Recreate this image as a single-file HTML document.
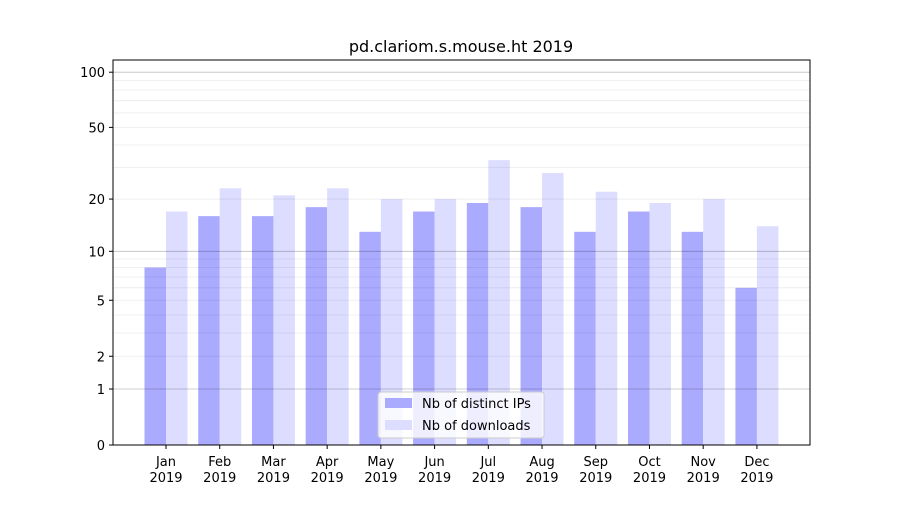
<!DOCTYPE html>
<html><head><meta charset="utf-8"><style>
html,body{margin:0;padding:0;background:#fff;}
svg text{font-family:"DejaVu Sans","Liberation Sans",sans-serif;fill:#000;}
</style></head><body>
<svg width="900" height="500" xmlns="http://www.w3.org/2000/svg">
<rect width="900" height="500" fill="#fff"/>
<g id="bars"></g>
<g id="grid"></g>
<rect x="113" y="60" width="697" height="385" fill="none" stroke="#000" stroke-width="1"/>
<g id="ticks" font-size="13"></g>
<text x="461" y="52" text-anchor="middle" font-size="16">pd.clariom.s.mouse.ht 2019</text>
<g>
<rect x="378" y="392" width="166" height="46" rx="3" fill="#fff" fill-opacity="0.8" stroke="#ccc"/>
<rect x="385" y="398" width="27" height="10" fill="#aaaaff"/>
<text x="422" y="408" font-size="13">Nb of distinct IPs</text>
<rect x="385" y="420" width="27" height="10" fill="#ddddff"/>
<text x="422" y="430" font-size="13">Nb of downloads</text>
</g>
</svg>
<script>
const ns="http://www.w3.org/2000/svg";
function Y(v){return 445-186*Math.log10(v+1);}
function el(p,t,a,txt){const e=document.createElementNS(ns,t);for(const k in a)e.setAttribute(k,a[k]);if(txt!==undefined)e.textContent=txt;document.querySelector(p).appendChild(e);return e;}
const minors=[2,3,4,5,6,7,8,9,20,30,40,50,60,70,80,90,200];
minors.forEach(v=>{const y=Y(v);if(y>60)el('#grid','line',{x1:113,x2:810,y1:y,y2:y,stroke:'rgba(0,0,0,0.08)','stroke-width':0.8});});
[1,10,100].forEach(v=>{const y=Y(v);el('#grid','line',{x1:113,x2:810,y1:y,y2:y,stroke:'rgba(0,0,0,0.25)','stroke-width':0.8});});
const ip=[8,16,16,18,13,17,19,18,13,17,13,6];
const dl=[17,23,21,23,20,20,33,28,22,19,20,14];
const m=['Jan','Feb','Mar','Apr','May','Jun','Jul','Aug','Sep','Oct','Nov','Dec'];
for(let i=0;i<12;i++){
 const c=166+i*53.72;
 el('#bars','rect',{x:c-21.5,y:Y(ip[i]),width:21.5,height:445-Y(ip[i]),fill:'#aaaaff'});
 el('#bars','rect',{x:c,y:Y(dl[i]),width:21.5,height:445-Y(dl[i]),fill:'#ddddff'});
 el('#ticks','line',{x1:c,x2:c,y1:445,y2:449,stroke:'#000'});
 el('#ticks','text',{x:c,y:466,'text-anchor':'middle'},m[i]);
 el('#ticks','text',{x:c,y:482,'text-anchor':'middle'},'2019');
}
[0,1,2,5,10,20,50,100].forEach(v=>{const y=Y(v);
 el('#ticks','line',{x1:109,x2:113,y1:y,y2:y,stroke:'#000'});
 el('#ticks','text',{x:105,y:y+5,'text-anchor':'end'},String(v));});
</script>
</body></html>
